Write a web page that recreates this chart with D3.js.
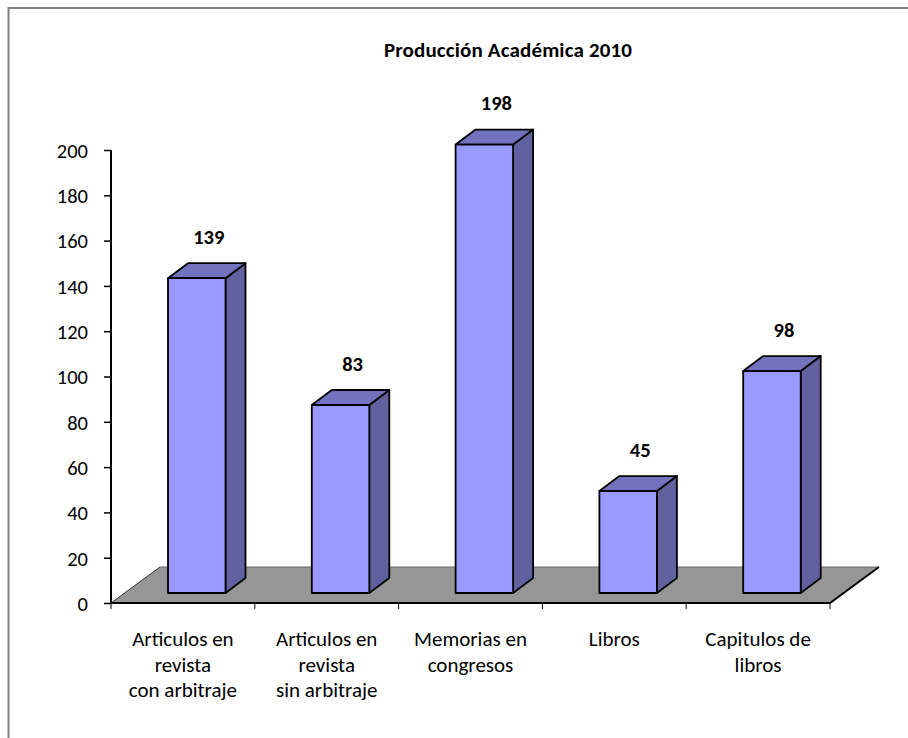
<!DOCTYPE html>
<html><head><meta charset="utf-8"><script src="https://cdn.jsdelivr.net/npm/d3@7"></script>
<style>html,body{margin:0;padding:0;background:#fff}svg{display:block}text{font-family:Carlito,Lato,"Open Sans",sans-serif;fill:#000}</style></head>
<body><svg id="c" width="908" height="738"></svg>
<script>
const categories=[["Articulos en","revista","con arbitraje"],["Articulos en","revista","sin arbitraje"],["Memorias en","congresos"],["Libros"],["Capitulos de","libros"]];
const values=[139,83,198,45,98];
const yTicks=[0,20,40,60,80,100,120,140,160,180,200];
const title="Producción Académica 2010";
const svg=d3.select("#c");
const y=d3.scaleLinear().domain([0,200]).range([603,150]);
const x=d3.scaleBand().domain(d3.range(5)).range([111,830]);
const dx=20,dy=-15,lift=10,bw=57.5,shift=57;
svg.append("path").attr("d","M8.5,738V8H908").attr("fill","none").attr("stroke","#7f7f7f").attr("stroke-width",2);
svg.append("text").attr("x",508).attr("y",57).attr("text-anchor","middle").attr("font-size",21).attr("letter-spacing",0.15).attr("font-weight","bold").text(title);
const fl=[[111,603],[830,603],[879,567],[160,567]];
svg.append("polygon").attr("points",fl.join(" ")).attr("fill","#969696");
svg.append("path").attr("d","M160,567H879").attr("fill","none").attr("stroke","#666").attr("stroke-width",1);
svg.append("path").attr("d","M879,567L830,603H111").attr("fill","none").attr("stroke","#000").attr("stroke-width",2);
svg.append("path").attr("d","M111,150V603").attr("stroke","#000").attr("stroke-width",2);
svg.append("path").attr("d","M111,603L160,567").attr("stroke","#333").attr("stroke-width",1);
const ya=svg.append("g").attr("transform","translate(111,0)").call(d3.axisLeft(y).tickValues(yTicks).tickSize(7).tickPadding(16));
ya.select(".domain").remove();ya.selectAll("line").attr("stroke","#000").attr("stroke-width",1.5);
ya.selectAll("text").attr("font-size",20.5).attr("dy","0.36em");
svg.selectAll("line.xt").data(d3.range(6)).join("line").attr("x1",i=>111+i*x.bandwidth()).attr("x2",i=>111+i*x.bandwidth()).attr("y1",603).attr("y2",609).attr("stroke","#000").attr("stroke-width",1);
values.forEach((v,i)=>{
 const l=x(i)+shift,r=l+bw,t=y(v)-lift,b=y(0)-lift;
 const g=svg.append("g").attr("stroke","#000").attr("stroke-width",1.8).attr("stroke-linejoin","round");
 g.append("polygon").attr("points",[[r,t],[r+dx,t+dy],[r+dx,b+dy],[r,b]].join(" ")).attr("fill","#62619f");
 g.append("polygon").attr("points",[[l,t],[l+dx,t+dy],[r+dx,t+dy],[r,t]].join(" ")).attr("fill","#7372bf");
 g.append("rect").attr("x",l).attr("y",t).attr("width",bw).attr("height",b-t).attr("fill","#9999ff");
 svg.append("text").attr("x",l+bw/2+12).attr("y",t-34.5).attr("text-anchor","middle").attr("font-size",20.5).attr("font-weight","bold").text(v);
 categories[i].forEach((s,j)=>svg.append("text").attr("x",x(i)+x.bandwidth()/2).attr("y",646+j*25.5).attr("text-anchor","middle").attr("font-size",21).text(s));
});
</script></body></html>
